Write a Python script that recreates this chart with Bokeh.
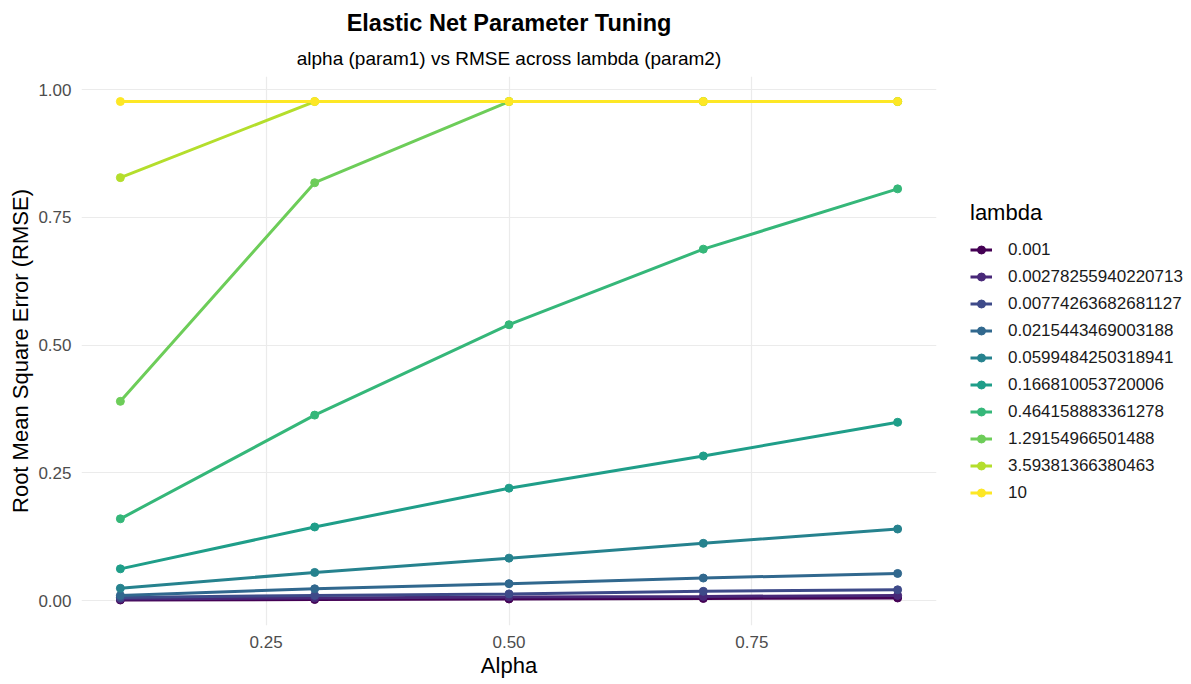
from bokeh.plotting import figure
from bokeh.models import Range1d, FixedTicker, PrintfTickFormatter, Legend, LegendItem, Title, ColumnDataSource
from bokeh.embed import file_html
from bokeh.resources import INLINE

alpha = [0.1, 0.3, 0.5, 0.7, 0.9]
lambda_labels = ["0.001", "0.00278255940220713", "0.00774263682681127", "0.0215443469003188",
                 "0.0599484250318941", "0.166810053720006", "0.464158883361278",
                 "1.29154966501488", "3.59381366380463", "10"]
rmse_0001 = [0.001, 0.002, 0.003, 0.004, 0.005]
rmse_00028 = [0.003, 0.005, 0.007, 0.008, 0.010]
rmse_00077 = [0.006, 0.010, 0.013, 0.018, 0.021]
rmse_00215 = [0.010, 0.023, 0.033, 0.044, 0.053]
rmse_00599 = [0.024, 0.055, 0.083, 0.112, 0.140]
rmse_01668 = [0.062, 0.144, 0.220, 0.283, 0.349]
rmse_04642 = [0.160, 0.363, 0.540, 0.688, 0.806]
rmse_12915 = [0.390, 0.818, 0.977, 0.977, 0.977]
rmse_35938 = [0.828, 0.977, 0.977, 0.977, 0.977]
rmse_10 = [0.977, 0.977, 0.977, 0.977, 0.977]
series = [rmse_0001, rmse_00028, rmse_00077, rmse_00215, rmse_00599,
          rmse_01668, rmse_04642, rmse_12915, rmse_35938, rmse_10]
colors = ["#440154", "#482878", "#3E4A89", "#31688E", "#26828E",
          "#1F9E89", "#35B779", "#6DCD59", "#B4DE2C", "#FDE725"]
x_ticks = [0.25, 0.5, 0.75]
y_ticks = [0.0, 0.25, 0.5, 0.75, 1.0]

FONT = "Liberation Sans"

p = figure(width=1191, height=684, frame_width=855, frame_height=549,
           output_backend="svg", toolbar_location=None,
           x_range=Range1d(0.06, 0.94), y_range=Range1d(-0.0489, 1.026),
           min_border_left=81, min_border_right=0, min_border_top=76, min_border_bottom=59)
p.outline_line_color = None
p.background_fill_color = "white"
p.title.visible = False

items = []
for lab, ys, c in zip(lambda_labels, series, colors):
    src = ColumnDataSource(dict(x=alpha, y=ys))
    l = p.line("x", "y", source=src, line_color=c, line_width=3)
    s = p.scatter("x", "y", source=src, size=8, fill_color=c, line_color=c)
    items.append(LegendItem(label=lab, renderers=[l, s]))

for ax in (p.xaxis[0], p.yaxis[0]):
    ax.axis_line_color = None
    ax.major_tick_line_color = None
    ax.minor_tick_line_color = None
    ax.major_tick_out = 0
    ax.major_tick_in = 0
    ax.major_label_text_font = FONT
    ax.major_label_text_font_size = "17px"
    ax.major_label_text_color = "#4D4D4D"
    ax.axis_label_text_font = FONT
    ax.axis_label_text_font_size = "22px"
    ax.axis_label_text_font_style = "normal"
    ax.axis_label_text_color = "black"
    ax.formatter = PrintfTickFormatter(format="%.2f")

p.xaxis[0].ticker = FixedTicker(ticks=x_ticks)
p.yaxis[0].ticker = FixedTicker(ticks=y_ticks)
p.xaxis[0].axis_label = "Alpha"
p.yaxis[0].axis_label = "Root Mean Square Error (RMSE)"
p.xaxis[0].major_label_standoff = 10
p.yaxis[0].major_label_standoff = 10
p.xaxis[0].axis_label_standoff = 2
p.yaxis[0].axis_label_standoff = 2

p.xgrid.grid_line_color = "#EBEBEB"
p.ygrid.grid_line_color = "#EBEBEB"
p.xgrid.grid_line_width = 1.2
p.ygrid.grid_line_width = 1.2

legend = Legend(items=items, title="lambda", location="center_left")
legend.title_text_font = FONT
legend.title_text_font_size = "22px"
legend.title_text_font_style = "normal"
legend.title_text_color = "black"
legend.title_standoff = 14
legend.label_text_font = FONT
legend.label_text_font_size = "17px"
legend.label_text_color = "#1a1a1a"
legend.glyph_width = 22
legend.glyph_height = 20
legend.label_height = 20
legend.spacing = 7
legend.label_standoff = 16
legend.border_line_color = None
legend.background_fill_alpha = 0
legend.margin = 34
legend.padding = 0
p.add_layout(legend, "right")

subtitle = Title(text="alpha (param1) vs RMSE across lambda (param2)", align="center",
                 text_font=FONT, text_font_size="19px", text_font_style="normal",
                 text_color="black", standoff=15)
p.add_layout(subtitle, "above")
main = Title(text="Elastic Net Parameter Tuning", align="center",
             text_font=FONT, text_font_size="23.5px", text_font_style="bold",
             text_color="black", standoff=6)
p.add_layout(main, "above")

open("out.html", "w").write(file_html(p, INLINE))
